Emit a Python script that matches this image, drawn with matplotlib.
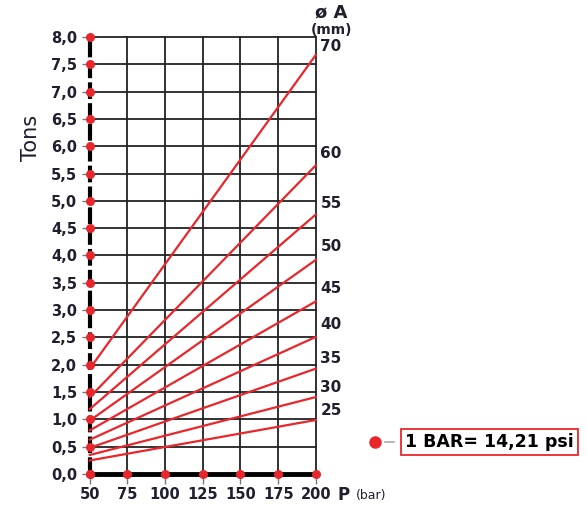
import numpy as np
import matplotlib.pyplot as plt
from matplotlib import font_manager

names = {f.name for f in font_manager.fontManager.ttflist}
FONT = 'Liberation Sans Narrow' if 'Liberation Sans Narrow' in names else 'DejaVu Sans'
plt.rcParams['font.family'] = [FONT, 'DejaVu Sans']

RED = '#e8262b'
TXT = '#1f1f2e'

# pressure (bar) at the two ends of each line
p_ends = [50, 200]
diameters = [70, 60, 55, 50, 45, 40, 35, 30, 25]
tons_50 = [1.93, 1.41, 1.19, 0.98, 0.80, 0.63, 0.48, 0.35, 0.25]
tons_200 = [7.67, 5.65, 4.75, 3.92, 3.16, 2.51, 1.93, 1.41, 0.99]
label_y = [7.68, 5.72, 4.82, 4.02, 3.25, 2.60, 1.98, 1.45, 1.02]

x_ticks = [50, 75, 100, 125, 150, 175, 200]
y_ticks = np.arange(0, 8.01, 0.5)

fig = plt.figure(figsize=(5.87, 5.12), dpi=100)
ax = fig.add_axes([0.153, 0.074, 0.385, 0.854])
ax.set_xlim(50, 200)
ax.set_ylim(0, 8)

for x in x_ticks[1:]:
    ax.plot([x, x], [0, 8], color='#222222', lw=1.3, zorder=1, clip_on=False)
for y in y_ticks[1:]:
    ax.plot([50, 200], [y, y], color='#222222', lw=1.3, zorder=1, clip_on=False)

for d, a, b in zip(diameters, tons_50, tons_200):
    ax.plot(p_ends, [a, b], color=RED, lw=1.6, zorder=3, clip_on=False)

ax.plot([50, 50], [0, 8], color='black', lw=3, dashes=(4, 1), zorder=2, clip_on=False)
ax.plot([50, 200], [0, 0], color='black', lw=3.5, zorder=2, clip_on=False)
ax.scatter([50] * len(y_ticks), y_ticks, s=30, color=RED, zorder=4, clip_on=False)
ax.scatter(x_ticks, [0] * len(x_ticks), s=30, color=RED, zorder=4, clip_on=False)

for s in ax.spines.values():
    s.set_visible(False)

ax.set_yticks(y_ticks)
ax.set_yticklabels([f'{v:.1f}'.replace('.', ',') for v in y_ticks])
ax.set_xticks(x_ticks)
ax.set_xticklabels([str(v) for v in x_ticks])
ax.tick_params(axis='y', length=6, width=1, color='#777777', pad=3,
               labelsize=10.5, labelcolor=TXT)
ax.tick_params(axis='x', length=7, width=1, color='#777777', pad=2,
               labelsize=10.5, labelcolor=TXT)
for lab in ax.get_xticklabels() + ax.get_yticklabels():
    lab.set_fontweight('bold')

for d, ly in zip(diameters, label_y):
    ax.text(203, ly, str(d), fontsize=11, fontweight='bold', color=TXT,
            ha='left', va='bottom')

fig.text(0.565, 0.975, 'ø A', fontsize=13, fontweight='bold', color=TXT,
         ha='center', va='center')
fig.text(0.565, 0.942, '(mm)', fontsize=10, fontweight='bold', color=TXT,
         ha='center', va='center')
fig.text(0.052, 0.73, 'Tons', fontsize=15, color=TXT, ha='center',
         va='center', rotation=90)
fig.text(0.585, 0.033, 'P', fontsize=12, fontweight='bold', color=TXT,
         ha='center', va='center')
fig.text(0.633, 0.033, '(bar)', fontsize=9, color=TXT, ha='center', va='center')

# conversion note
fig.add_artist(plt.Line2D([0.638], [0.137], marker='o', ms=8, color=RED,
                          transform=fig.transFigure))
fig.add_artist(plt.Line2D([0.656, 0.672], [0.137, 0.137], color='#aaaaaa',
                          lw=1.2, transform=fig.transFigure))
fig.text(0.69, 0.137, '1 BAR= 14,21 psi', fontsize=12.5, fontweight='bold',
         color='black', ha='left', va='center',
         bbox=dict(boxstyle='square,pad=0.25', fc='white', ec=RED, lw=1.3))

fig.savefig('out.png', dpi=100)
